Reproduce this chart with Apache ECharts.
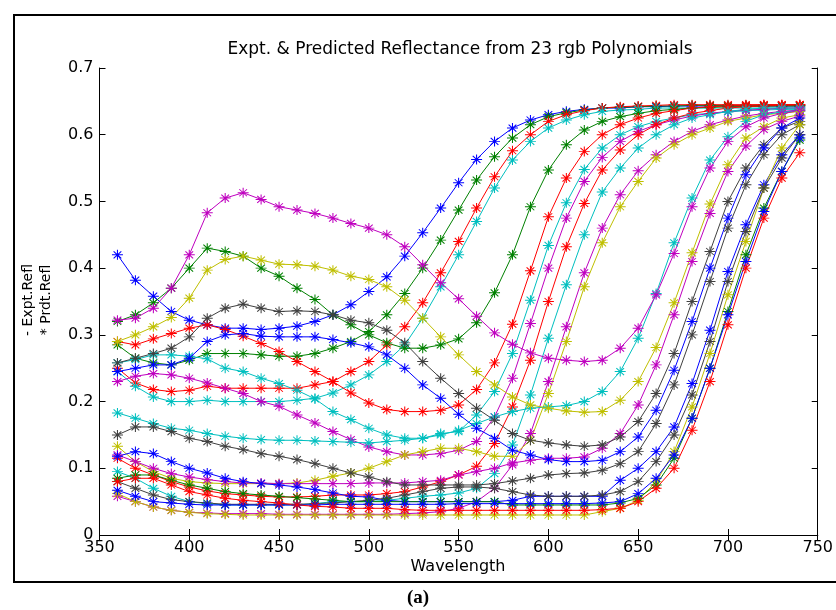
<!DOCTYPE html>
<html>
<head>
<meta charset="utf-8">
<script src="https://cdn.jsdelivr.net/npm/echarts@6.0.0/dist/echarts.min.js"></script>
<style>
  html, body { margin: 0; padding: 0; background: #fff; }
  #chart { width: 836px; height: 610px; }
</style>
</head>
<body>
<div id="chart"></div>
<script>
// wavelengths sampled every 10 nm
const wavelength = [360,370,380,390,400,410,420,430,440,450,460,470,480,490,500,510,520,530,540,550,
  560,570,580,590,600,610,620,630,640,650,660,670,680,690,700,710,720,730,740];
const xTicks = [350, 400, 450, 500, 550, 600, 650, 700, 750];
const yTicks = [0, 0.1, 0.2, 0.3, 0.4, 0.5, 0.6, 0.7];

// reflectance curves
const blue1 = [.42,.382,.358,.335,.322,.315,.31,.31,.308,.31,
  .313,.32,.33,.345,.365,.387,.418,.453,.49,.528,
  .563,.59,.61,.622,.63,.635,.638,.64,.64,.642,
  .642,.643,.643,.643,.643,.643,.643,.643,.643];
const green1 = [.285,.265,.258,.255,.262,.272,.272,.272,.27,.268,
  .268,.272,.28,.29,.305,.33,.362,.40,.442,.487,
  .532,.567,.595,.615,.627,.633,.637,.64,.641,.642,
  .643,.643,.644,.644,.644,.644,.644,.644,.644];
const red1 = [.25,.228,.218,.215,.217,.223,.22,.22,.22,.22,
  .22,.225,.23,.245,.26,.285,.312,.348,.393,.44,
  .49,.537,.576,.60,.62,.63,.636,.64,.642,.643,
  .644,.645,.645,.645,.645,.645,.645,.645,.645];
const cyan1 = [.245,.223,.207,.20,.20,.202,.20,.20,.20,.20,
  .202,.205,.213,.225,.24,.26,.285,.325,.372,.42,
  .47,.52,.562,.59,.61,.622,.63,.635,.637,.638,
  .64,.64,.64,.64,.64,.64,.64,.64,.64];
const green2 = [.32,.33,.348,.37,.40,.43,.425,.418,.40,.388,
  .37,.353,.33,.315,.30,.288,.28,.28,.285,.294,
  .318,.363,.42,.492,.547,.585,.607,.62,.627,.632,
  .636,.638,.64,.641,.642,.642,.643,.643,.643];
const red2 = [.29,.285,.294,.302,.31,.315,.308,.298,.287,.275,
  .26,.245,.23,.213,.198,.188,.185,.185,.187,.195,
  .218,.258,.316,.396,.477,.535,.575,.60,.615,.625,
  .632,.636,.64,.642,.643,.644,.645,.645,.645];
const cyan2 = [.258,.263,.27,.27,.268,.264,.25,.245,.235,.227,
  .217,.204,.185,.173,.16,.15,.145,.145,.152,.155,
  .18,.215,.272,.352,.434,.498,.548,.58,.60,.612,
  .62,.625,.63,.632,.634,.636,.637,.638,.638];
const magenta1 = [.23,.238,.242,.24,.235,.228,.22,.212,.2,.193,
  .18,.168,.155,.143,.132,.125,.12,.12,.122,.127,
  .14,.177,.235,.317,.40,.475,.53,.566,.59,.605,
  .615,.622,.628,.632,.635,.637,.638,.64,.64];
const red3 = [.115,.1,.09,.08,.072,.066,.062,.06,.058,.057,
  .057,.058,.06,.06,.06,.062,.065,.072,.08,.09,
  .103,.137,.192,.262,.35,.432,.497,.547,.577,.60,
  .615,.625,.632,.636,.64,.642,.643,.644,.645];
const cyan3 = [.095,.085,.07,.058,.05,.047,.045,.045,.045,.045,
  .045,.047,.05,.05,.05,.052,.055,.058,.06,.063,
  .07,.092,.135,.21,.295,.375,.45,.514,.55,.58,
  .60,.615,.625,.63,.635,.638,.64,.64,.64];
const magenta2 = [.058,.05,.042,.037,.034,.033,.032,.032,.032,.031,
  .031,.031,.031,.031,.031,.031,.032,.033,.035,.04,
  .05,.07,.105,.152,.23,.312,.393,.46,.51,.546,
  .57,.59,.605,.615,.622,.628,.632,.635,.637];
const yellow1 = [.133,.11,.095,.085,.08,.078,.077,.077,.077,.077,
  .078,.082,.088,.093,.10,.11,.12,.125,.13,.13,
  .125,.118,.118,.142,.212,.29,.372,.438,.492,.53,
  .565,.585,.60,.61,.62,.625,.63,.632,.635];
const cyan4 = [.183,.175,.167,.16,.157,.152,.148,.145,.143,.142,
  .142,.141,.14,.139,.138,.14,.142,.145,.15,.157,
  .167,.177,.185,.19,.192,.194,.2,.215,.245,.295,
  .362,.438,.505,.562,.597,.62,.63,.634,.636];
const magenta3 = [.322,.325,.34,.37,.42,.483,.505,.513,.503,.492,
  .487,.482,.475,.467,.46,.45,.432,.405,.378,.354,
  .328,.303,.286,.273,.265,.262,.26,.262,.28,.31,
  .36,.422,.492,.55,.59,.612,.625,.632,.636];
const yellow2 = [.29,.30,.312,.326,.355,.397,.413,.418,.412,.406,
  .405,.403,.397,.388,.383,.372,.352,.325,.297,.27,
  .245,.225,.207,.195,.19,.186,.184,.185,.202,.23,
  .281,.348,.423,.496,.555,.595,.612,.625,.63];
const magenta4 = [.12,.11,.1,.092,.087,.083,.08,.078,.078,.077,
  .077,.077,.077,.077,.078,.078,.078,.08,.082,.09,
  .095,.10,.108,.112,.115,.115,.117,.13,.152,.195,
  .255,.33,.41,.482,.545,.583,.608,.62,.628];
const gray1 = [.258,.265,.272,.28,.297,.325,.34,.346,.34,.335,
  .336,.335,.33,.322,.318,.307,.288,.26,.235,.212,
  .19,.172,.152,.142,.138,.135,.133,.135,.147,.17,
  .212,.272,.35,.425,.50,.55,.585,.61,.62];
const blue2 = [.245,.25,.255,.255,.265,.29,.30,.302,.298,.297,
  .297,.297,.293,.288,.282,.27,.25,.225,.205,.181,
  .16,.145,.127,.12,.113,.11,.11,.112,.125,.147,
  .187,.247,.32,.40,.475,.54,.58,.61,.625];
const gray2 = [.15,.162,.162,.155,.145,.14,.133,.128,.122,.118,
  .113,.107,.10,.093,.087,.08,.075,.075,.075,.075,
  .075,.077,.081,.085,.09,.092,.093,.097,.107,.125,
  .167,.225,.30,.38,.46,.525,.57,.60,.615];
const blue3 = [.118,.125,.122,.11,.10,.093,.085,.08,.077,.075,
  .072,.068,.063,.058,.057,.052,.05,.05,.05,.05,
  .05,.05,.052,.058,.058,.058,.058,.058,.082,.10,
  .125,.162,.227,.307,.395,.465,.525,.57,.60];
const yellow3 = [.062,.05,.042,.037,.034,.032,.031,.03,.03,.03,
  .03,.03,.03,.03,.03,.03,.03,.03,.03,.03,
  .03,.03,.03,.03,.03,.03,.03,.035,.04,.052,
  .08,.125,.192,.272,.36,.44,.52,.58,.615];
const gray3 = [.08,.07,.06,.053,.05,.048,.046,.046,.046,.046,
  .046,.047,.048,.05,.052,.055,.06,.065,.07,.072,
  .072,.07,.065,.06,.058,.058,.058,.06,.065,.08,
  .11,.15,.21,.29,.38,.455,.52,.565,.60];
const green3 = [.085,.09,.09,.082,.075,.07,.065,.062,.06,.058,
  .056,.054,.052,.05,.05,.05,.05,.05,.05,.05,
  .05,.05,.045,.045,.045,.045,.045,.045,.048,.055,
  .075,.115,.175,.25,.335,.42,.49,.545,.592];
const blue4 = [.067,.058,.05,.048,.046,.045,.045,.045,.045,.045,
  .045,.045,.046,.046,.046,.046,.046,.046,.046,.047,
  .047,.047,.047,.047,.047,.047,.047,.048,.05,.062,
  .085,.12,.175,.25,.33,.41,.485,.545,.595];
const red4 = [.08,.085,.085,.075,.065,.06,.055,.052,.05,.048,
  .045,.043,.042,.04,.04,.04,.038,.037,.037,.037,
  .037,.037,.037,.037,.037,.037,.037,.038,.04,.05,
  .07,.10,.157,.23,.315,.40,.475,.535,.573];

const BLUE = "#0000ff", GREEN = "#008000", RED = "#ff0000", CYAN = "#00bfbf",
  MAGENTA = "#bf00bf", YELLOW = "#bfbf00", GRAY = "#404040";

const curves = [
  [blue1, BLUE], [green1, GREEN], [red1, RED], [cyan1, CYAN], [green2, GREEN],
  [red2, RED], [cyan2, CYAN], [magenta1, MAGENTA], [red3, RED], [cyan3, CYAN],
  [magenta2, MAGENTA], [yellow1, YELLOW], [cyan4, CYAN], [magenta3, MAGENTA],
  [yellow2, YELLOW], [magenta4, MAGENTA], [gray1, GRAY], [blue2, BLUE],
  [gray2, GRAY], [blue3, BLUE], [yellow3, YELLOW], [gray3, GRAY],
  [green3, GREEN], [blue4, BLUE], [red4, RED]
];

const STAR = "path://M5 0L5 10M0 5L10 5M1.5 1.5L8.5 8.5M8.5 1.5L1.5 8.5";
const FONT = "DejaVu Sans";

let series = curves.map(function (c) {
  return {
    type: "line",
    data: wavelength.map((w, i) => [w, c[0][i]]),
    symbol: STAR,
    symbolSize: [11, 10],
    lineStyle: { width: 1, color: c[1] },
    itemStyle: { color: c[1], borderColor: c[1], borderWidth: 1 },
    silent: true
  };
});

let axisCommon = {
  axisLine: { show: true, lineStyle: { color: "#000", width: 1 } },
  axisTick: { show: true, inside: true, length: 6, lineStyle: { color: "#000" } },
  splitLine: { show: false }
};

let option = {
  animation: false,
  backgroundColor: "#fff",
  grid: { left: 99.5, right: 15, top: 68, bottom: 75 },
  xAxis: [
    Object.assign({
      type: "value", min: xTicks[0], max: xTicks[xTicks.length - 1], interval: 50,
      position: "bottom",
      axisLabel: { color: "#000", fontSize: 16, fontFamily: FONT, margin: 5 }
    }, axisCommon),
    Object.assign({
      type: "value", min: xTicks[0], max: xTicks[xTicks.length - 1], interval: 50,
      position: "top", axisLabel: { show: false }
    }, axisCommon)
  ],
  yAxis: [
    Object.assign({
      type: "value", min: yTicks[0], max: yTicks[yTicks.length - 1], interval: 0.1,
      position: "left",
      axisLabel: {
        color: "#000", fontSize: 16, fontFamily: FONT, margin: 6,
        formatter: v => (v === 0 ? "0" : v.toFixed(1))
      }
    }, axisCommon),
    Object.assign({
      type: "value", min: yTicks[0], max: yTicks[yTicks.length - 1], interval: 0.1,
      position: "right", axisLabel: { show: false }
    }, axisCommon)
  ],
  graphic: [
    {
      type: "rect", silent: true,
      shape: { x: 14, y: 15, width: 850, height: 567 },
      style: { fill: "none", stroke: "#000", lineWidth: 2 }
    },
    {
      type: "text", x: 460, y: 50,
      style: { text: "Expt. & Predicted Reflectance from 23 rgb Polynomials",
        fontSize: 17, fontFamily: FONT, fill: "#000",
        textAlign: "center", textVerticalAlign: "middle" }
    },
    {
      type: "text", x: 458, y: 567,
      style: { text: "Wavelength", fontSize: 16, fontFamily: FONT, fill: "#000",
        textAlign: "center", textVerticalAlign: "middle" }
    },
    {
      type: "text", x: 28, y: 300, rotation: Math.PI / 2,
      style: { text: "- Expt.Refl", fontSize: 14, fontFamily: FONT, fill: "#000",
        textAlign: "center", textVerticalAlign: "middle" }
    },
    {
      type: "text", x: 46, y: 300, rotation: Math.PI / 2,
      style: { text: "* Prdt.Refl", fontSize: 14, fontFamily: FONT, fill: "#000",
        textAlign: "center", textVerticalAlign: "middle" }
    },
    {
      type: "text", x: 418, y: 598,
      style: { text: "(a)", fontSize: 19, fontWeight: "bold", fontFamily: "Liberation Serif",
        fill: "#000", textAlign: "center", textVerticalAlign: "middle" }
    }
  ],
  series: series
};

let chart = echarts.init(document.getElementById("chart"), null, { renderer: "canvas" });
chart.setOption(option);
</script>
</body>
</html>
